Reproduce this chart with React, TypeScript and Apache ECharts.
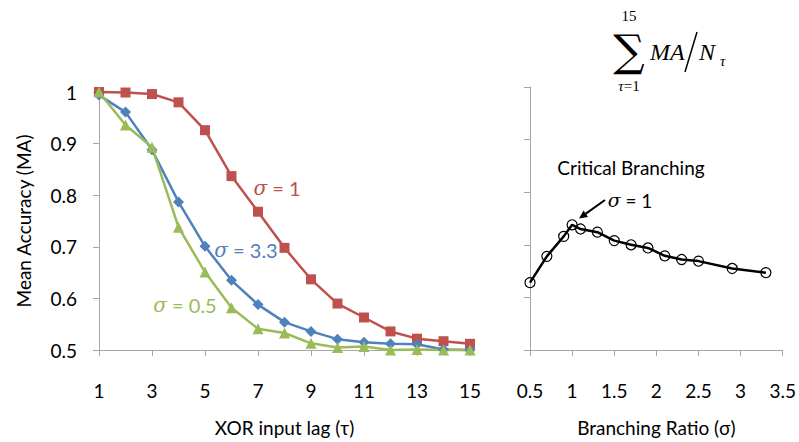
import React, { useEffect, useRef } from "react";
import * as echarts from "echarts";

// XOR input lag (tau)
const lags = [1, 2, 3, 4, 5, 6, 7, 8, 9, 10, 11, 12, 13, 14, 15];
// Mean accuracy, sigma = 1
const maSigma1 = [1.0, 0.999, 0.996, 0.98, 0.926, 0.837, 0.768, 0.698, 0.637, 0.59, 0.563, 0.536, 0.522, 0.517, 0.512];
// Mean accuracy, sigma = 3.3
const maSigma33 = [0.994, 0.961, 0.888, 0.787, 0.701, 0.635, 0.588, 0.554, 0.536, 0.521, 0.515, 0.512, 0.511, 0.501, 0.5];
// Mean accuracy, sigma = 0.5
const maSigma05 = [1.0, 0.936, 0.893, 0.738, 0.651, 0.582, 0.541, 0.533, 0.513, 0.505, 0.507, 0.5, 0.501, 0.5, 0.5];
// Branching ratio (sigma) and summed MA / N_tau
const branchRatios = [0.5, 0.7, 0.9, 1.0, 1.1, 1.3, 1.5, 1.7, 1.9, 2.1, 2.3, 2.5, 2.9, 3.3];
const summedMA = [0.628, 0.678, 0.716, 0.738, 0.73, 0.724, 0.708, 0.7, 0.694, 0.679, 0.672, 0.669, 0.655, 0.647];

const RED = "#C0504D";
const BLUE = "#4F81BD";
const GREEN = "#9BBB59";
const AXIS = "#a6a6a6";
const FONT = 'Lato, "Noto Sans", sans-serif';
const SERIF = '"Liberation Serif", "DejaVu Serif", serif';

const zip = (xs: number[], ys: number[]) => xs.map((x, i) => [x, ys[i]]);

export default function App() {
  const ref = useRef<HTMLDivElement>(null);
  useEffect(() => {
    if (!ref.current) return;
    const chart = echarts.init(ref.current, null, { renderer: "svg" });
    const axisCommon = {
      axisLine: { show: true, lineStyle: { color: AXIS, width: 1 } },
      axisTick: { show: true, length: 6, lineStyle: { color: AXIS } },
      splitLine: { show: false },
      axisLabel: { color: "#000", fontSize: 19, fontFamily: FONT },
    };
    const sigmaText = (txt: string, color: string, x: number, y: number, size = 20) => ({
      type: "text",
      x,
      y,
      style: {
        text: "{i|σ} = " + txt,
        fill: color,
        fontSize: size,
        fontFamily: FONT,
        align: "center",
        verticalAlign: "middle",
        rich: { i: { fontStyle: "italic", fontSize: size, fontFamily: '"DejaVu Serif", serif', fill: color } },
      },
    });
    chart.setOption({
      animation: false,
      backgroundColor: "#fff",
      grid: [
        { left: 99, right: 329, top: 92, bottom: 90 },
        { left: 530, right: 15, top: 87, bottom: 90 },
      ],
      xAxis: [
        {
          ...axisCommon,
          gridIndex: 0,
          type: "value",
          min: 1,
          max: 15,
          interval: 2,
          axisLabel: { ...axisCommon.axisLabel, margin: 31 },
          name: "XOR input lag (τ)",
          nameLocation: "middle",
          nameGap: 68,
          nameTextStyle: { color: "#000", fontSize: 19, fontFamily: FONT },
        },
        {
          ...axisCommon,
          gridIndex: 1,
          type: "value",
          min: 0.5,
          max: 3.5,
          interval: 0.5,
          axisLabel: { ...axisCommon.axisLabel, margin: 31 },
          name: "Branching Ratio (σ)",
          nameLocation: "middle",
          nameGap: 68,
          nameTextStyle: { color: "#000", fontSize: 19, fontFamily: FONT },
        },
      ],
      yAxis: [
        {
          ...axisCommon,
          gridIndex: 0,
          type: "value",
          min: 0.5,
          max: 1,
          interval: 0.1,
          axisLabel: {
            ...axisCommon.axisLabel,
            margin: 22,
            formatter: (v: number) => String(+v.toFixed(1)),
          },
          name: "Mean Accuracy (MA)",
          nameLocation: "middle",
          nameGap: 66,
          nameTextStyle: { color: "#000", fontSize: 19, fontFamily: FONT },
        },
        {
          ...axisCommon,
          gridIndex: 1,
          type: "value",
          min: 0.5,
          max: 1,
          interval: 0.1,
          axisLabel: { show: false },
        },
      ],
      series: [
        {
          type: "line",
          xAxisIndex: 0,
          yAxisIndex: 0,
          data: zip(lags, maSigma1),
          symbol: "rect",
          symbolSize: 10,
          lineStyle: { color: RED, width: 2.5 },
          itemStyle: { color: RED },
          clip: false,
        },
        {
          type: "line",
          xAxisIndex: 0,
          yAxisIndex: 0,
          data: zip(lags, maSigma33),
          symbol: "diamond",
          symbolSize: 11,
          lineStyle: { color: BLUE, width: 2.5 },
          itemStyle: { color: BLUE },
          clip: false,
        },
        {
          type: "line",
          xAxisIndex: 0,
          yAxisIndex: 0,
          data: zip(lags, maSigma05),
          symbol: "triangle",
          symbolSize: 11,
          lineStyle: { color: GREEN, width: 2.5 },
          itemStyle: { color: GREEN },
          clip: false,
        },
        {
          type: "line",
          xAxisIndex: 1,
          yAxisIndex: 1,
          data: zip(branchRatios, summedMA),
          symbol: "circle",
          symbolSize: 10,
          lineStyle: { color: "#000", width: 2.5 },
          itemStyle: { color: "rgba(255,255,255,0)", borderColor: "#000", borderWidth: 1.2 },
          clip: false,
        },
      ],
      graphic: [
        sigmaText("1", RED, 277, 188),
        sigmaText("3.3", BLUE, 246, 250),
        sigmaText("0.5", GREEN, 185, 305),
        {
          type: "text",
          x: 631,
          y: 167,
          style: {
            text: "Critical Branching",
            fill: "#000",
            fontSize: 19,
            fontFamily: FONT,
            align: "center",
            verticalAlign: "middle",
          },
        },
        sigmaText("1", "#000", 630, 200, 19),
        {
          type: "line",
          shape: { x1: 605, y1: 200, x2: 585.5, y2: 213.9 },
          style: { stroke: "#000", lineWidth: 2 },
        },
        {
          type: "polygon",
          shape: { points: [[579, 218.5], [588, 217], [583.5, 210.5]] },
          style: { fill: "#000" },
        },
        // Formula: sum_{tau=1}^{15} MA / N_tau
        {
          type: "text",
          x: 629,
          y: 16,
          style: { text: "15", fill: "#000", fontSize: 15, lineHeight: 14, fontFamily: SERIF, align: "center", verticalAlign: "middle" },
        },
        {
          type: "text",
          x: 629,
          y: 50,
          style: {
            text: "∑",
            fill: "#000",
            fontSize: 44,
            lineHeight: 38,
            fontFamily: '"DejaVu Serif", serif',
            align: "center",
            verticalAlign: "middle",
          },
        },
        {
          type: "text",
          x: 629,
          y: 86,
          style: {
            text: "{i|τ}=1",
            fill: "#000",
            fontSize: 15,
            lineHeight: 14,
            fontFamily: SERIF,
            align: "center",
            verticalAlign: "middle",
            rich: { i: { fontStyle: "italic", fontSize: 15, lineHeight: 14, fontFamily: SERIF } },
          },
        },
        {
          type: "text",
          x: 650,
          y: 52,
          style: { text: "MA", fill: "#000", fontSize: 24, fontStyle: "italic", fontFamily: SERIF, align: "left", verticalAlign: "middle" },
        },
        {
          type: "line",
          shape: { x1: 697, y1: 32, x2: 685, y2: 72 },
          style: { stroke: "#000", lineWidth: 1.5 },
        },
        {
          type: "text",
          x: 699,
          y: 52,
          style: { text: "N", fill: "#000", fontSize: 24, fontStyle: "italic", fontFamily: SERIF, align: "left", verticalAlign: "middle" },
        },
        {
          type: "text",
          x: 720,
          y: 61,
          style: { text: "τ", fill: "#000", fontSize: 15, fontStyle: "italic", fontFamily: SERIF, align: "left", verticalAlign: "middle" },
        },
      ],
    });
    return () => chart.dispose();
  }, []);
  return <div ref={ref} style={{ position: "fixed", left: 0, top: 0, width: 799, height: 442 }} />;
}
